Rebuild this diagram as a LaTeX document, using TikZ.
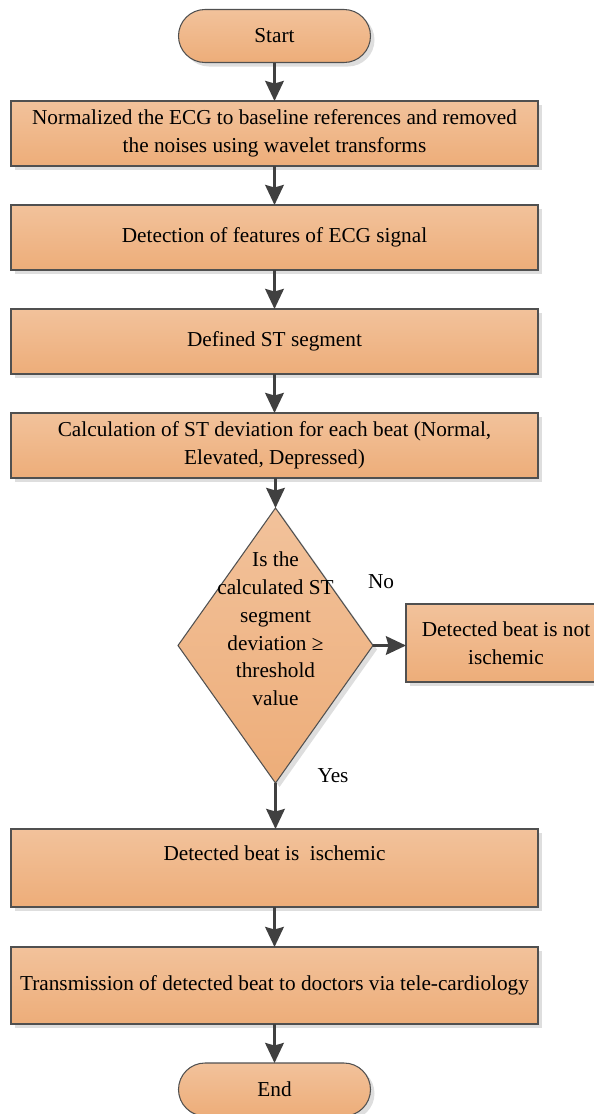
\documentclass[tikz,border=0pt]{standalone}
\usepackage{fontspec}
\setmainfont{Liberation Serif}
\usepackage{xcolor}
\usepackage{tikz}
\usetikzlibrary{shapes.geometric, arrows.meta, positioning, shadows}

\definecolor{boxtop}{HTML}{F2C29B}
\definecolor{boxbot}{HTML}{EDAD79}
\definecolor{edgegray}{HTML}{505050}
\definecolor{arrgray}{HTML}{404040}

\begin{document}
\begin{tikzpicture}[
    base/.style={draw=edgegray, line width=0.6pt, top color=boxtop, bottom color=boxbot,
        drop shadow={shadow xshift=0.08cm, shadow yshift=-0.08cm, fill=black!13, opacity=1},
        outer sep=0pt, align=center, font=\fontsize{12.1}{15.8}\selectfont},
    terminal/.style={base, rectangle, rounded corners=0.53cm, minimum width=3.84cm, minimum height=1.06cm},
    process/.style={base, rectangle, minimum width=10.54cm, minimum height=1.30cm},
    decision/.style={base, diamond, inner sep=0pt, minimum width=3.9cm, minimum height=5.5cm},
    txt/.style={align=center, font=\fontsize{12.1}{15.8}\selectfont},
    arr/.style={-{Stealth[length=0.40cm, width=0.37cm, inset=0.05cm]}, draw=arrgray, fill=arrgray, line width=1.7pt}
]
    \useasboundingbox (0,0) rectangle (11.86,-22.28);

    \node[terminal] (start) at (5.49,-0.72) {Start};
    \node[process] (normalize) at (5.49,-2.67)
        {Normalized the ECG to baseline references and removed\\the noises using wavelet transforms};
    \node[process] (features) at (5.49,-4.75) {Detection of features of ECG signal};
    \node[process] (stseg) at (5.49,-6.83) {Defined ST segment};
    \node[process] (deviation) at (5.49,-8.91)
        {Calculation of ST deviation for each beat (Normal,\\Elevated, Depressed)};
    \node[decision] (check) at (5.51,-12.91) {};
    \node[txt] (checktext) at ([yshift=0.33cm]check.center)
        {Is the\\calculated ST\\segment\\deviation ≥\\threshold\\value};
    \node[process, minimum width=4.0cm, minimum height=1.56cm] (normal) at (10.12,-12.86)
        {Detected beat is not\\ischemic};
    \node[process, minimum height=1.56cm] (ischemic) at (5.49,-17.36)
        {Detected beat is\ \ ischemic\\[1pt]\mbox{}};
    \node[process, minimum height=1.54cm] (transmit) at (5.49,-19.71)
        {Transmission of detected beat to doctors via tele-cardiology};
    \node[terminal] (end) at (5.49,-21.79) {End};

    \node[txt] (nolabel) at (7.62,-11.64) {No};
    \node[txt] (yeslabel) at (6.66,-15.52) {Yes};

    \draw[arr] (start) -- (normalize);
    \draw[arr] (normalize) -- (features);
    \draw[arr] (features) -- (stseg);
    \draw[arr] (stseg) -- (deviation);
    \draw[arr] (deviation.south -| check.north) -- (check.north);
    \draw[arr] (check.east) -- (check.east -| normal.west);
    \draw[arr] (check.south) -- (check.south |- ischemic.north);
    \draw[arr] (ischemic) -- (transmit);
    \draw[arr] (transmit) -- (end);
\end{tikzpicture}
\end{document}
